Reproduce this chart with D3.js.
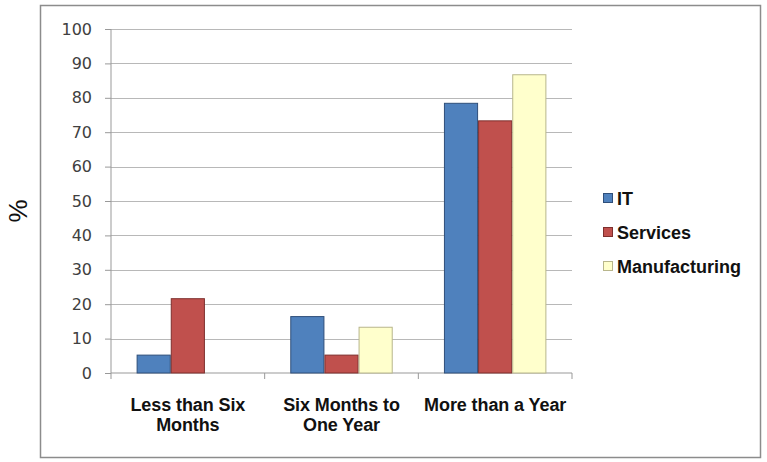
<!DOCTYPE html>
<html>
<head>
<meta charset="utf-8">
<script src="https://cdn.jsdelivr.net/npm/d3@7"></script>
<style>
  body { margin: 0; background: #fff; }
  svg { display: block; font-family: "Liberation Sans", Arial, sans-serif; }
</style>
</head>
<body>
<div id="chart"></div>
<script>
// data
const categories = [["Less than Six", "Months"], ["Six Months to", "One Year"], ["More than a Year"]];
const seriesNames = ["IT", "Services", "Manufacturing"];
const itValues = [5.2, 16.4, 78.4];
const servicesValues = [21.6, 5.2, 73.3];
const manufacturingValues = [0, 13.3, 86.7];
const yTicks = [0, 10, 20, 30, 40, 50, 60, 70, 80, 90, 100];

const fills = ["#4f81bd", "#c0504d", "#ffffcc"];
const strokes = ["#2f4f7a", "#7e2f2d", "#b8b68c"];

const width = 767;
const height = 462;
const margin = { left: 111, right: 195, top: 29, bottom: 89 };

const svg = d3.select("#chart")
  .append("svg")
  .attr("width", width)
  .attr("height", height);

// outer frame
svg.append("rect")
  .attr("x", 40.5).attr("y", 5.5)
  .attr("width", 720).attr("height", 452)
  .attr("fill", "#fff")
  .attr("stroke", "#8c8c8c")
  .attr("stroke-width", 1.5);

const x = d3.scaleBand()
  .domain(d3.range(categories.length))
  .range([margin.left, width - margin.right])
  .paddingInner(0)
  .paddingOuter(0);

const y = d3.scaleLinear()
  .domain([0, 100])
  .range([height - margin.bottom, margin.top]);

// gridlines
svg.append("g")
  .selectAll("line")
  .data(yTicks.filter(d => d > 0))
  .join("line")
  .attr("x1", margin.left)
  .attr("x2", width - margin.right)
  .attr("y1", d => Math.round(y(d)) + 0.5)
  .attr("y2", d => Math.round(y(d)) + 0.5)
  .attr("stroke", "#b8b8b8")
  .attr("stroke-width", 1.2);

// y axis
const yAxis = svg.append("g")
  .attr("transform", `translate(${margin.left},0)`)
  .call(d3.axisLeft(y).tickValues(yTicks).tickSize(6).tickPadding(13));
yAxis.selectAll("line").attr("stroke", "#999");
yAxis.select(".domain").attr("stroke", "#999").attr("d", `M0,${y(100)}V${y(0)}`);
yAxis.selectAll("text")
  .attr("fill", "#404040")
  .style("font-family", "'DejaVu Sans', Verdana, sans-serif")
  .style("font-size", "16px");

// x axis line + category ticks
const xAxis = svg.append("g")
  .attr("transform", `translate(0,${y(0)})`);
xAxis.append("line")
  .attr("x1", margin.left).attr("x2", width - margin.right)
  .attr("stroke", "#999");
xAxis.selectAll(".tick")
  .data(d3.range(categories.length + 1))
  .join("line")
  .attr("class", "tick")
  .attr("x1", d => d < categories.length ? x(d) : x(d - 1) + x.bandwidth())
  .attr("x2", d => d < categories.length ? x(d) : x(d - 1) + x.bandwidth())
  .attr("y1", 0).attr("y2", 6)
  .attr("stroke", "#999");

// bars
const x1 = d3.scaleBand()
  .domain(seriesNames)
  .range([0, x.bandwidth()])
  .paddingOuter(0.75)
  .paddingInner(0);

const series = [itValues, servicesValues, manufacturingValues];
const groups = svg.append("g")
  .selectAll("g")
  .data(categories)
  .join("g")
  .attr("transform", (d, i) => `translate(${x(i)},0)`);

groups.selectAll("rect")
  .data((d, i) => seriesNames.map((s, j) => ({ s, j, v: series[j][i] })).filter(d => d.v > 0))
  .join("rect")
  .attr("x", d => x1(d.s) + 0.5)
  .attr("y", d => y(d.v))
  .attr("width", x1.bandwidth() - 1)
  .attr("height", d => y(0) - y(d.v))
  .attr("fill", d => fills[d.j])
  .attr("stroke", d => strokes[d.j])
  .attr("stroke-width", 1);

// category labels
svg.append("g")
  .selectAll("text")
  .data(categories)
  .join("text")
  .attr("x", (d, i) => x(i) + x.bandwidth() / 2)
  .attr("y", 411)
  .attr("text-anchor", "middle")
  .attr("font-weight", "bold")
  .attr("font-size", "18px")
  .attr("letter-spacing", "-0.1px")
  .attr("fill", "#111")
  .selectAll("tspan")
  .data(d => d)
  .join("tspan")
  .attr("x", function () { return this.parentNode.getAttribute("x"); })
  .attr("dy", (d, i) => i === 0 ? 0 : 20)
  .text(d => d);

// y label
svg.append("text")
  .attr("transform", "translate(27,211) rotate(-90)")
  .attr("text-anchor", "middle")
  .attr("font-size", "26px")
  .attr("fill", "#111")
  .text("%");

// legend
const legend = svg.append("g")
  .attr("transform", "translate(603,198)")
  .selectAll("g")
  .data(seriesNames)
  .join("g")
  .attr("transform", (d, i) => `translate(0,${i * 34})`);

legend.append("rect")
  .attr("x", 0.5).attr("y", -4.5)
  .attr("width", 9).attr("height", 9)
  .attr("fill", (d, i) => fills[i])
  .attr("stroke", (d, i) => strokes[i]);

legend.append("text")
  .attr("x", 14)
  .attr("y", 6.5)
  .attr("font-weight", "bold")
  .attr("font-size", "18px")
  .attr("letter-spacing", "0px")
  .attr("fill", "#111")
  .text(d => d);
</script>
</body>
</html>
